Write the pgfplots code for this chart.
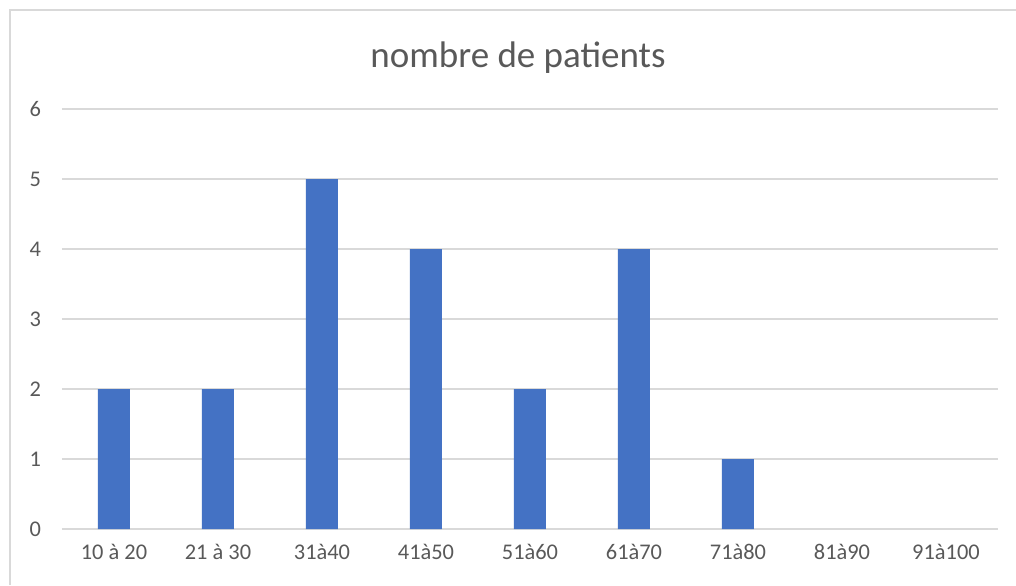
\documentclass[border=0pt]{standalone}
\usepackage{pgfplots}
\pgfplotsset{compat=1.18}
\usepackage{fontspec}
\setmainfont{Carlito}
\definecolor{barblue}{HTML}{4472C4}
\definecolor{txtgray}{HTML}{595959}
\definecolor{gridgray}{HTML}{D9D9D9}
\begin{document}
\begin{tikzpicture}[x=0.5pt,y=0.5pt]
\useasboundingbox (-62,-56) rectangle (954,529);
\fill[white] (-62,-56) rectangle (954,529);
\draw[gridgray, line width=1pt] (-52,-56) -- (-52,519) -- (954,519);
\begin{axis}[
  at={(0,0)}, anchor=south west,
  width=468pt, height=210pt, scale only axis,
  xmin=-0.5, xmax=8.5, ymin=0, ymax=6,
  ytick={0,1,2,3,4,5,6},
  xtick={0,1,2,3,4,5,6,7,8},
  xticklabels={10 à 20,21 à 30,31à40,41à50,51à60,61à70,71à80,81à90,91à100},
  axis line style={draw=none},
  major tick length=0pt,
  ymajorgrids,
  grid style={gridgray, line width=0.9pt},
  tick label style={font=\fontsize{11.2}{13}\selectfont, text=txtgray},
  /pgf/number format/assume math mode=true,
  yticklabel style={xshift=-7pt},
  xticklabel style={yshift=-4pt},
  clip=false,
]
\addplot[ybar, bar width=16pt, fill=barblue, draw=none] coordinates {
(0,2) (1,2) (2,5) (3,4) (4,2) (5,4) (6,1)
};
\end{axis}
\node[text=txtgray, font=\fontsize{18.5}{21}\selectfont] at (456,471) {nombre de patients};
\end{tikzpicture}
\end{document}
